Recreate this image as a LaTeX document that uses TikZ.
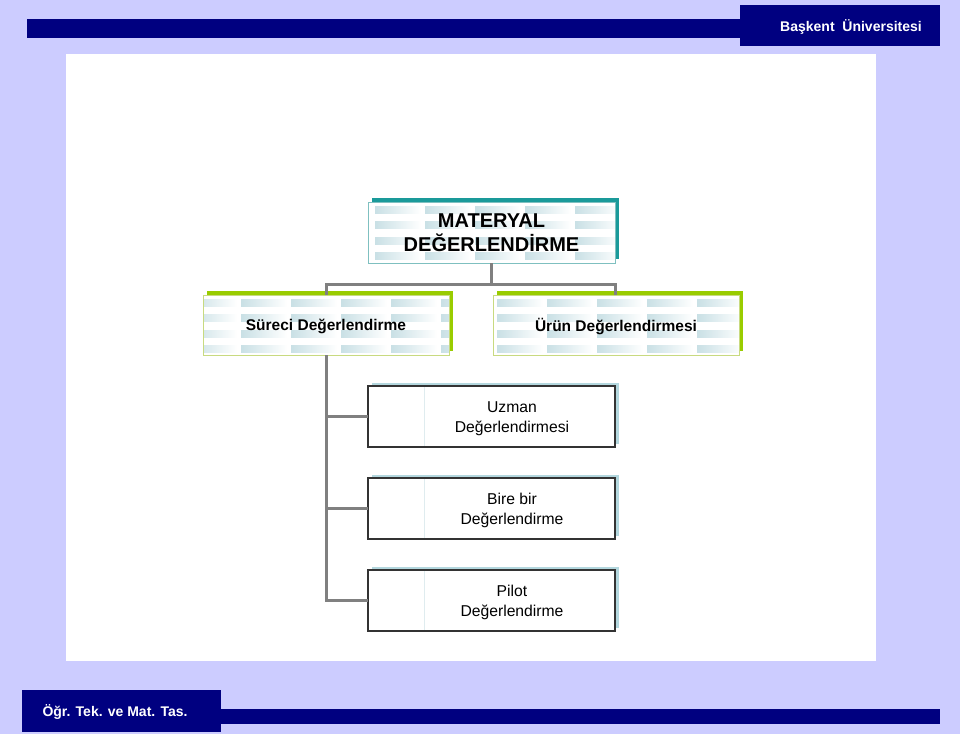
\documentclass[tikz,border=0pt]{standalone}
\usepackage{fontspec}
\setmainfont{Liberation Sans}
\usetikzlibrary{backgrounds}
\definecolor{bgl}{HTML}{CCCCFF}
\definecolor{navy}{HTML}{000080}
\definecolor{tealsh}{HTML}{1A9A9A}
\definecolor{tealfr}{HTML}{7FC0C0}
\definecolor{greensh}{HTML}{99CC00}
\definecolor{greenfr}{HTML}{C8DA80}
\definecolor{conn}{HTML}{808080}
\definecolor{tileblue}{HTML}{C9E0E5}
\definecolor{lowsh}{HTML}{B3D7DE}
\definecolor{lowfr}{HTML}{333333}
\newcommand\tilefill[5]{%
  \begin{scope}
    \clip (#1,#2) rectangle (#3,#4);
    \foreach \i in {0,...,5}{
      \foreach \j in {0,...,3}{
        \pgfmathsetmacro\cx{#5+50*\i}
        \pgfmathsetmacro\ry{#2+4+15.5*\j}
        \shade[left color=tileblue,right color=white] (\cx,\ry) rectangle ++(46,7);
      }
    }
  \end{scope}}
\tikzset{
  topbox/.style={draw=tealfr,line width=1pt,inner sep=0pt,outer sep=0pt,minimum width=247pt,minimum height=61pt,align=center,font=\bfseries\fontsize{20}{24}\selectfont},
  midbox/.style={draw=greenfr,line width=1pt,inner sep=0pt,outer sep=0pt,minimum width=246pt,minimum height=60pt,align=center,font=\bfseries\fontsize{15.5}{18}\selectfont},
  lowbox/.style={draw=lowfr,line width=1.2pt,inner sep=0pt,outer sep=0pt,minimum width=247pt,minimum height=61pt},
  lowtext/.style={align=center,font=\fontsize{15.7}{19.5}\selectfont},
  connector/.style={draw=conn,line width=3pt},
  hdr/.style={text=white,font=\bfseries\fontsize{14}{16}\selectfont}
}
\begin{document}
\begin{tikzpicture}[x=1pt,y=-1pt]
\useasboundingbox (0,0) rectangle (960,734);
% nodes
\node[hdr] (head) at (851,27) {Başkent\ \ Üniversitesi};
\node[hdr] (foot) at (115,712) {Öğr. Tek. ve Mat. Tas.};
\node[topbox] (title) at (491.5,232.5) {MATERYAL\\DEĞERLENDİRME};
\node[midbox] (proc) at (326,325) {};
\node[midbox] (prod) at (616,325) {};
\node[midbox,draw=none] (proct) at (326,326.5) {Süreci Değerlendirme};
\node[midbox,draw=none] (prodt) at (616,326.5) {Ürün Değerlendirmesi};
\node[lowbox] (uzman) at (491.5,416.5) {};
\node[lowbox] (bire) at (491.5,508.5) {};
\node[lowbox] (pilot) at (491.5,600.5) {};
\node[lowtext] (uzmant) at (512,418.5) {Uzman\\Değerlendirmesi};
\node[lowtext] (biret) at (512,510.5) {Bire bir\\Değerlendirme};
\node[lowtext] (pilott) at (512,602.5) {Pilot\\Değerlendirme};
\begin{scope}[on background layer]
  \fill[bgl] (0,0) rectangle (960,734);
  \fill[navy] (27,19) rectangle (940,38);
  \fill[navy] (740,5) rectangle (940,46);
  \fill[navy] (221,709) rectangle (940,724);
  \fill[navy] (22,690) rectangle (221,732);
  \fill[white] (66,54) rectangle (876,661);
  % title shadow + fill
  \fill[tealsh] ([shift={(4,-4)}]title.south west) rectangle ([shift={(4,-4)}]title.north east);
  \fill[white] (title.south west) rectangle (title.north east);
  \tilefill{368}{202}{615}{263}{375}
  % mid boxes
  \foreach \n in {proc,prod}{
    \fill[greensh] ([shift={(4,-4)}]\n.south west) rectangle ([shift={(4,-4)}]\n.north east);
    \fill[white] (\n.south west) rectangle (\n.north east);
  }
  \tilefill{203}{295}{449}{355}{191}
  \tilefill{493}{295}{739}{355}{497}
  % low boxes
  \foreach \n in {uzman,bire,pilot}{
    \fill[lowsh] ([shift={(4,-3)}]\n.south west) rectangle ([shift={(4,-3)}]\n.north east);
    \fill[white] (\n.south west) rectangle (\n.north east);
    \draw[tileblue!60,line width=0.6pt] ([xshift=56pt]\n.south west) -- ([xshift=56pt]\n.north west);
  }
\end{scope}
% connectors
\coordinate (j1) at (491.5,284);
\draw[connector] (title.south) -- (j1);
\draw[connector] (proc.north) |- (j1) -| ([shift={(-1,0)}]prod.north);
\draw[connector] (proc.south) |- (pilot.west);
\draw[connector] (proc.south |- uzman.west) -- (uzman.west);
\draw[connector] (proc.south |- bire.west) -- (bire.west);
\end{tikzpicture}
\end{document}
